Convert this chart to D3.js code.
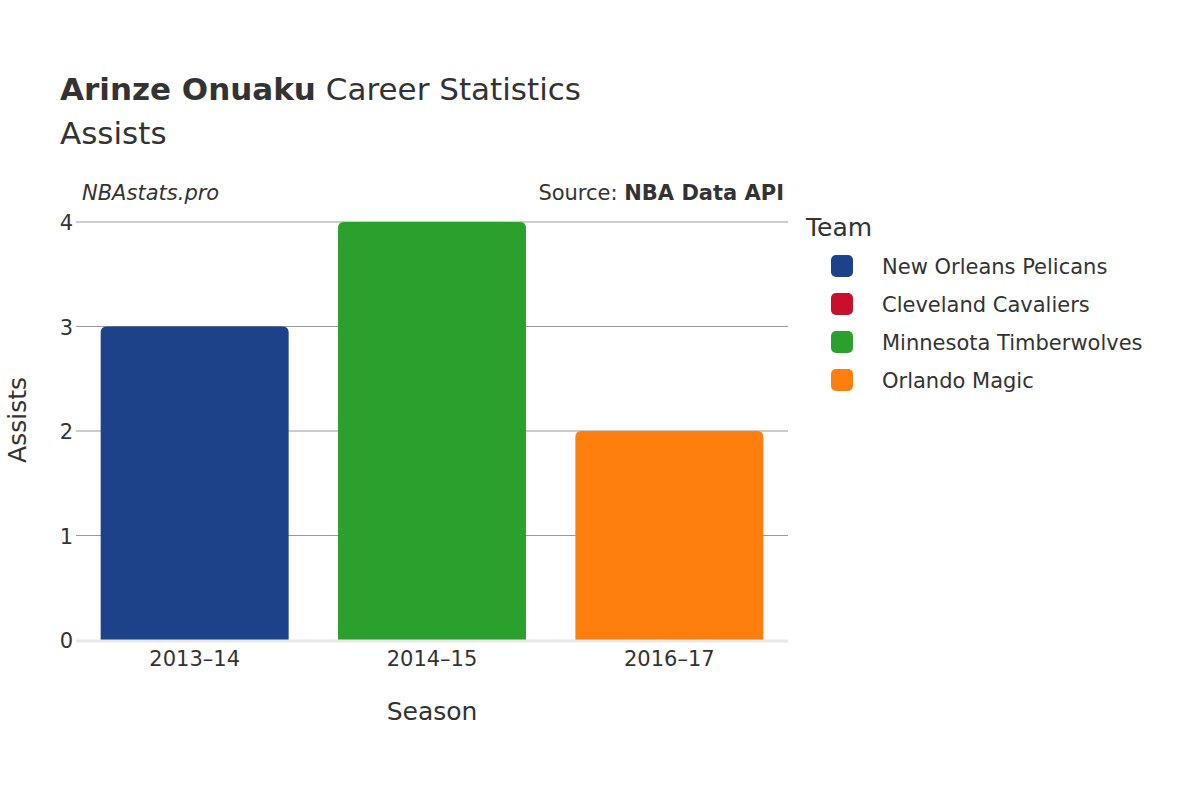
<!DOCTYPE html>
<html><head><meta charset="utf-8">
<script src="https://cdn.jsdelivr.net/npm/d3@7"></script>
<style>body{margin:0;background:#fff}text{font-family:"DejaVu Sans",sans-serif;fill:#333}</style>
</head><body><svg id="c" width="1200" height="800"></svg>
<script>
const seasons = ["2013–14","2014–15","2016–17"];
const teams = ["New Orleans Pelicans","Minnesota Timberwolves","Orlando Magic"];
const assists = [3,4,2];
const legendTeams = ["New Orleans Pelicans","Cleveland Cavaliers","Minnesota Timberwolves","Orlando Magic"];
const legendColors = ["#1d428a","#c8102e","#2ca02c","#ff7f0e"];
const yTicks = [0,1,2,3,4];

const svg = d3.select("#c");
const L=76,R=788,T=222,B=640;
const x = d3.scaleBand().domain(seasons).range([L,R]).paddingInner(0.208).paddingOuter(0.104);
const y = d3.scaleLinear().domain([0,4]).range([B,T]);
const color = d3.scaleOrdinal().domain(legendTeams).range(legendColors);

svg.append("g").selectAll("line").data(yTicks.filter(d=>d>0)).join("line")
 .attr("x1",L).attr("x2",R).attr("y1",d=>y(d)).attr("y2",d=>y(d)).attr("stroke","#999").attr("stroke-width",1);

svg.append("g").selectAll("path").data(seasons).join("path")
 .attr("fill",(d,i)=>color(teams[i]))
 .attr("d",(d,i)=>{const x0=x(d),w=x.bandwidth(),y0=y(assists[i]),r=6;
   return `M${x0},${B}V${y0+r}Q${x0},${y0} ${x0+r},${y0}H${x0+w-r}Q${x0+w},${y0} ${x0+w},${y0+r}V${B}Z`;});

svg.append("line").attr("x1",L).attr("x2",R).attr("y1",B+1).attr("y2",B+1).attr("stroke","#e8e8e8").attr("stroke-width",3);

svg.append("g").selectAll("text").data(yTicks).join("text")
 .attr("x",L-3).attr("y",d=>y(d)+8).attr("text-anchor","end").attr("font-size",21).text(d=>d);
svg.append("g").selectAll("text").data(seasons).join("text")
 .attr("x",d=>x(d)+x.bandwidth()/2).attr("y",666).attr("text-anchor","middle").attr("font-size",21).text(d=>d);

svg.append("text").attr("x",432).attr("y",720).attr("text-anchor","middle").attr("font-size",25).text("Season");
svg.append("text").attr("transform","translate(26,420) rotate(-90)").attr("text-anchor","middle").attr("font-size",25).text("Assists");

const t=svg.append("text").attr("x",60).attr("y",100).attr("font-size",31);
t.append("tspan").attr("font-weight","bold").text("Arinze Onuaku");
t.append("tspan").text(" Career Statistics");
svg.append("text").attr("x",60).attr("y",144).attr("font-size",31).text("Assists");

svg.append("text").attr("x",82).attr("y",200).attr("font-size",21).attr("font-style","italic").text("NBAstats.pro");
const s=svg.append("text").attr("x",784).attr("y",200).attr("font-size",21).attr("text-anchor","end");
s.append("tspan").text("Source: ");
s.append("tspan").attr("font-weight","bold").text("NBA Data API");

svg.append("text").attr("x",806).attr("y",236).attr("font-size",25).text("Team");
const lg=svg.append("g").selectAll("g").data(legendTeams).join("g").attr("transform",(d,i)=>`translate(0,${266+i*38})`);
lg.append("rect").attr("x",831).attr("y",-11).attr("width",22).attr("height",22).attr("rx",5).attr("fill",d=>color(d));
lg.append("text").attr("x",882).attr("y",8).attr("font-size",21).text(d=>d);
</script></body></html>
